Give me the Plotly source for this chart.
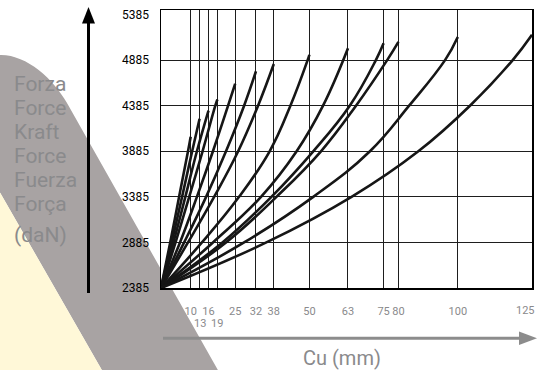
import plotly.graph_objects as go

# ---------------- data ----------------
x_ticks = [10, 13, 16, 19, 25, 32, 38, 50, 63, 75, 80, 100, 125]
upper_row = [10, 16, 25, 32, 38, 50, 63, 75, 80, 100]
edge_label = [125]
lower_row = [13, 19]
y_ticks = [2385, 2885, 3385, 3885, 4385, 4885, 5385]
y_grid = [2885, 3385, 3885, 4385, 4885]

force_labels = ["Forza", "Force", "Kraft", "Force", "Fuerza", "Força"]
unit_label = "(daN)"
x_title = "Cu (mm)"

cu10_mm = [0, 3.1, 6.1, 9.1, 10]
cu10_dan = [2385, 2885, 3385, 3885, 4045]
cu13_mm = [0, 3.6, 7.1, 10.5, 13]
cu13_dan = [2385, 2885, 3385, 3885, 4242]
cu16_mm = [0, 4.2, 8.2, 12.1, 16]
cu16_dan = [2385, 2885, 3385, 3885, 4332]
cu19_mm = [0, 4.9, 9.5, 14.0, 18.3, 19]
cu19_dan = [2385, 2885, 3385, 3885, 4385, 4453]
cu25_mm = [0, 6.4, 12.1, 17.5, 22.6, 25]
cu25_dan = [2385, 2885, 3385, 3885, 4385, 4626]
cu32_mm = [0, 7.8, 15.2, 21.9, 28.0, 32]
cu32_dan = [2385, 2885, 3385, 3885, 4385, 4763]
cu38_mm = [0, 9.1, 17.9, 26.0, 32.7, 38]
cu38_dan = [2385, 2885, 3385, 3885, 4385, 4842]
cu50_mm = [0, 13.8, 26.3, 36.6, 43.6, 49.4, 50]
cu50_dan = [2385, 2885, 3385, 3885, 4385, 4885, 4944]
cu63_mm = [0, 17.5, 33.7, 45.7, 54.6, 63]
cu63_dan = [2385, 2885, 3385, 3885, 4385, 5015]
cu75_mm = [0, 20.7, 37.2, 51.3, 63.6, 72.4, 75]
cu75_dan = [2385, 2885, 3385, 3885, 4385, 4885, 5069]
cu80_mm = [0, 21.9, 38.9, 53.9, 65.7, 76.2, 80]
cu80_dan = [2385, 2885, 3385, 3885, 4385, 4885, 5085]
cu100_mm = [0, 28.0, 51.3, 70.4, 83.6, 95.7, 100]
cu100_dan = [2385, 2885, 3385, 3885, 4385, 4885, 5139]
cu125_mm = [0, 35.5, 64.2, 86.7, 104.1, 118.5, 125]
cu125_dan = [2385, 2885, 3385, 3885, 4385, 4885, 5163]

curves = [
    (cu10_mm, cu10_dan), (cu13_mm, cu13_dan), (cu16_mm, cu16_dan),
    (cu19_mm, cu19_dan), (cu25_mm, cu25_dan), (cu32_mm, cu32_dan),
    (cu38_mm, cu38_dan), (cu50_mm, cu50_dan), (cu63_mm, cu63_dan),
    (cu75_mm, cu75_dan), (cu80_mm, cu80_dan), (cu100_mm, cu100_dan),
    (cu125_mm, cu125_dan),
]

# ---------------- layout geometry ----------------
W, H = 537, 370
L, R, T, B = 161, 5, 10, 82
PW = W - L - R
PH = H - T - B

FONT = "Roboto, Liberation Sans, Arial, sans-serif"
GRAY_TXT = "#8a8a8c"
GRID = "#1e1e1e"


def px(x):
    return (x - L) / PW


def py(y):
    return (T + PH - y) / PH


def path(pts, close=True):
    s = ""
    for i, (a, b) in enumerate(pts):
        s += ("M" if i == 0 else "L") + f"{px(a):.5f},{py(b):.5f} "
    return s + ("Z" if close else "")


fig = go.Figure()
for mm, dan in curves:
    fig.add_trace(go.Scatter(
        x=mm, y=dan, mode="lines",
        line=dict(color="#161616", width=2.6, shape="spline", smoothing=1.2),
        hoverinfo="skip", showlegend=False, cliponaxis=False,
    ))

shapes = []
# grey diagonal band with rounded top
band = (f"M{px(-2):.5f},{py(55):.5f} "
        f"C{px(25):.5f},{py(53):.5f} {px(53):.5f},{py(78):.5f} {px(67):.5f},{py(103):.5f} "
        f"L{px(219):.5f},{py(372):.5f} L{px(103):.5f},{py(372):.5f} "
        f"L{px(-2):.5f},{py(189):.5f} Z")
shapes.append(dict(type="path", xref="paper", yref="paper", path=band,
                   fillcolor="#a8a3a3", line=dict(width=0), layer="below"))
# cream triangle
shapes.append(dict(type="path", xref="paper", yref="paper",
                   path=path([(-2, 189), (103, 372), (-2, 372)]),
                   fillcolor="#fff8d8", line=dict(width=0), layer="below"))
# white plot area
shapes.append(dict(type="rect", xref="paper", yref="paper", x0=0, x1=1, y0=0, y1=1,
                   fillcolor="white", line=dict(width=0), layer="below"))
# vertical black arrow
shapes.append(dict(type="line", xref="paper", yref="paper",
                   x0=px(88.5), x1=px(88.5), y0=py(293), y1=py(22),
                   line=dict(color="black", width=3), layer="above"))
shapes.append(dict(type="path", xref="paper", yref="paper",
                   path=path([(82, 23.5), (95, 23.5), (88.5, 7)]),
                   fillcolor="black", line=dict(width=0), layer="above"))
# horizontal grey arrow
shapes.append(dict(type="line", xref="paper", yref="paper",
                   x0=px(163), x1=px(522), y0=py(338.3), y1=py(338.3),
                   line=dict(color="#8c8c8c", width=3), layer="above"))
shapes.append(dict(type="path", xref="paper", yref="paper",
                   path=path([(519, 331.5), (519, 345), (537, 338.3)]),
                   fillcolor="#8c8c8c", line=dict(width=0), layer="above"))

annotations = []
for i, t in enumerate(force_labels):
    annotations.append(dict(x=px(12), y=py(84 + 23.9 * i), xref="paper", yref="paper",
                            text=t, showarrow=False, xanchor="left", yanchor="middle",
                            font=dict(family=FONT, size=21, color=GRAY_TXT)))
annotations.append(dict(x=px(12), y=py(235), xref="paper", yref="paper",
                        text=unit_label, showarrow=False, xanchor="left", yanchor="middle",
                        font=dict(family=FONT, size=21, color=GRAY_TXT)))
for v in lower_row:
    annotations.append(dict(x=v, y=py(323.5), xref="x", yref="paper", text=str(v),
                            showarrow=False, xanchor="center", yanchor="middle",
                            font=dict(family=FONT, size=11, color=GRAY_TXT)))
for v in edge_label:
    annotations.append(dict(x=v, y=py(310), xref="x", yref="paper", text=str(v),
                            showarrow=False, xanchor="right", yanchor="middle", xshift=5,
                            font=dict(family=FONT, size=11, color=GRAY_TXT)))
annotations.append(dict(x=px(341.5), y=py(357.5), xref="paper", yref="paper",
                        text=x_title, showarrow=False, xanchor="center", yanchor="middle",
                        font=dict(family=FONT, size=20, color=GRAY_TXT)))

fig.update_layout(
    width=W, height=H,
    margin=dict(l=L, r=R, t=T, b=B, pad=0, autoexpand=False),
    paper_bgcolor="white", plot_bgcolor="white",
    shapes=shapes, annotations=annotations,
    showlegend=False,
    xaxis=dict(
        range=[0, 125], tickmode="array", tickvals=x_ticks,
        ticktext=[str(v) if v in upper_row else "" for v in x_ticks],
        showgrid=True, gridcolor=GRID, gridwidth=1,
        showline=True, linecolor="black", linewidth=1.5, mirror=True,
        ticks="", zeroline=False, ticklabelstandoff=12, tickangle=0,
        automargin=False,
        tickfont=dict(family=FONT, size=11, color=GRAY_TXT),
    ),
    yaxis=dict(
        range=[2385, 5435], tickmode="array", tickvals=y_ticks,
        showgrid=False,
        minor=dict(tickmode="array", tickvals=y_grid, showgrid=True,
                   gridcolor=GRID, gridwidth=1, ticks=""),
        showline=True, linecolor="black", linewidth=1.5, mirror=True,
        ticks="", zeroline=False, ticklabelstandoff=8, automargin=False,
        tickfont=dict(family=FONT, size=12, color="black"),
    ),
)

fig.write_html(
    "out.html",
    config={"displayModeBar": False, "staticPlot": True},
    post_script="document.body.style.margin='0';document.body.style.overflow='hidden';",
)
